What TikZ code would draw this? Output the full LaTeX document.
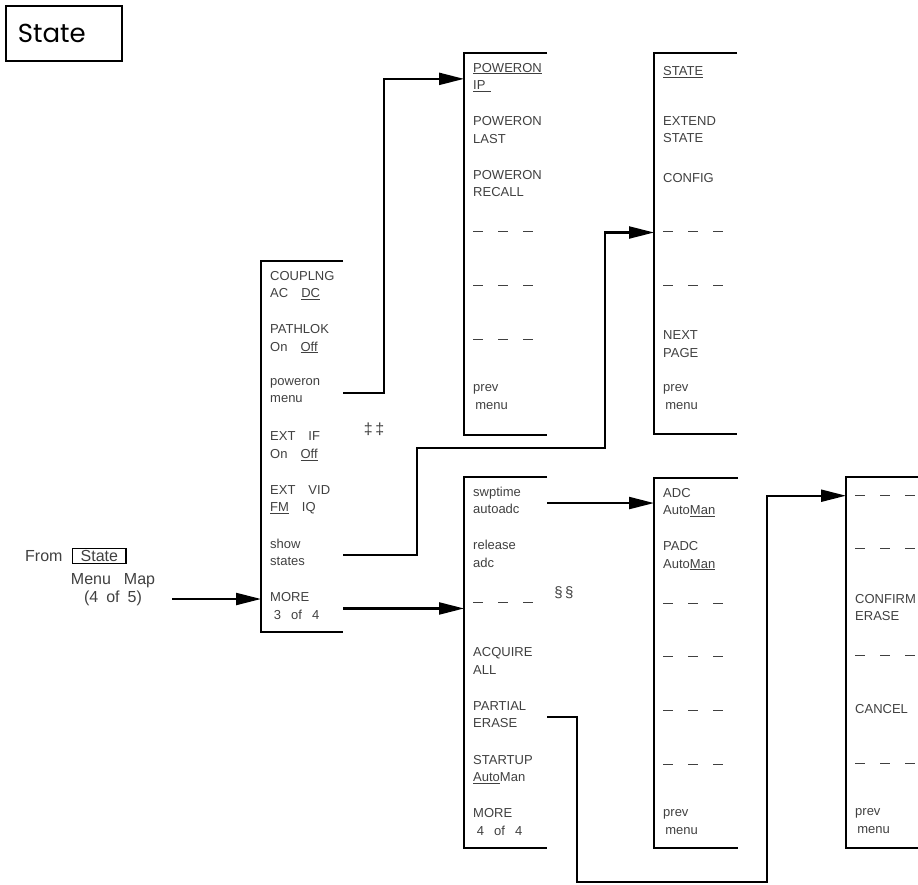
\documentclass[tikz,border=0pt]{standalone}
\usepackage{fontspec}
\setmainfont{Liberation Sans}
\newfontfamily\titlefont{Poppins}
\usetikzlibrary{arrows.meta,positioning}

% three short dashes of an empty softkey
\newcommand{\nokey}{\rule[3.8pt]{10pt}{0.8pt}\hspace{15pt}\rule[3.8pt]{10pt}{0.8pt}\hspace{15pt}\rule[3.8pt]{10pt}{0.8pt}}

% one softkey menu: name, left x, top y, width, height, keys
\newcommand{\softmenu}[6]{%
  \coordinate (#1) at (#2,#3);
  \coordinate (#1e) at (#2+#4,#3);
  \draw[menuframe] (#1e) -- (#1) -- ++(0,#5) -- ++(#4,0);
  \foreach \keytext [count=\k] in {#6}
    \node[softkey] (#1-\k) at ([shift={(9,9.75+53.6*\k-53.6)}]#1) {\keytext};
}

\tikzset{
  menuframe/.style={line width=1.4pt},
  link/.style={line width=2.2pt, -{Triangle[length=25pt,width=12pt]}},
  softkey/.style={anchor=north west, align=left, inner sep=0pt, text=black!75,
    font=\fontsize{13}{17.5}\selectfont, execute at begin node=\strut},
  fromtext/.style={inner sep=0pt, text=black!75, font=\fontsize{16}{18}\selectfont},
}

\begin{document}
\begin{tikzpicture}[x=1pt, y=-1pt]
    \useasboundingbox (0,0) rectangle (918,884);

    % Title
    \node[draw, line width=1.6pt, anchor=north west, minimum height=55pt,
      text width=92pt, inner xsep=12pt, align=left,
      font=\titlefont\fontsize{26}{30}\selectfont] (title) at (5,5) {State};

    % Where the map comes from
    \node[fromtext, anchor=base west] (from) at (25,561) {From};
    \node[fromtext, draw=black, line width=1.3pt, inner xsep=8pt, inner ysep=2pt,
      anchor=west] (fromkey) at (72,556) {State};
    \node[fromtext, align=center, anchor=north] (frommap) at (113,573)
      {Menu\hspace{13pt}Map\\(4\enskip of\enskip 5)};
    \coordinate (fromtip) at (172,599);

    % Menus
    \softmenu{m1}{261}{261}{82}{371}{{COUPLNG\\AC\quad\underline{DC}},
      {PATHLOK\\On\quad\underline{Off}}, {poweron\\menu},
      {EXT\quad IF\\On\quad\underline{Off}}, {EXT\quad VID\\\underline{FM}\quad IQ},
      {show\\states}, {MORE\\\ 3\enskip\ of\enskip\ 4}}
    \softmenu{pw}{464}{53}{83}{382}{{\underline{POWERON}\\\underline{IP\ \,}},
      {POWERON\\LAST}, {POWERON\\RECALL}, \nokey, \nokey, \nokey, {prev\\\,menu}}
    \softmenu{st}{654}{53}{83}{381}{\underline{STATE}, {EXTEND\\STATE}, CONFIG,
      \nokey, \nokey, {NEXT\\PAGE}, {prev\\\,menu}}
    \softmenu{mr}{464}{477}{83}{371}{{swptime\\autoadc}, {release\\adc}, \nokey,
      {ACQUIRE\\ALL}, {PARTIAL\\ERASE}, {STARTUP\\\underline{Auto}Man},
      {MORE\\\ 4\enskip\ of\enskip\ 4}}
    \softmenu{adc}{654}{478}{84}{370}{{ADC\\Auto\underline{Man}},
      {PADC\\Auto\underline{Man}}, \nokey, \nokey, \nokey, \nokey, {prev\\\,menu}}
    \softmenu{ers}{846}{477}{90}{371}{\nokey, \nokey, {CONFIRM\\ERASE}, \nokey,
      {\\[-9pt]CANCEL}, \nokey, {prev\\\,menu}}

    % Notes
    \node[softkey, anchor=center, font=\fontsize{16}{18}\selectfont] (dagger) at (374,431) {\ddag\,\ddag};
    \node[softkey, anchor=center, font=\fontsize{15}{18}\selectfont] (section) at (564,594) {\S\,\S};

    % Connectors
    \draw[link] (fromtip) -- (fromtip -| m1);
    \draw[link] (m1-3 -| m1e) -- ++(41,0) |- (pw-1 -| pw);
    \draw[link] (m1-6 -| m1e) -| ++(74,-107) -- ++(188,0) |- (st-4 -| st);
    \draw[link] (m1-7 -| m1e) -- (m1-7 -| mr);
    \draw[link] (mr-1 -| mre) -- (mr-1 -| adc);
    \draw[link] (mr-5 -| mre) -| ++(30,165) -- ++(190,0) |- (ers-1 -| ers);
\end{tikzpicture}
\end{document}
